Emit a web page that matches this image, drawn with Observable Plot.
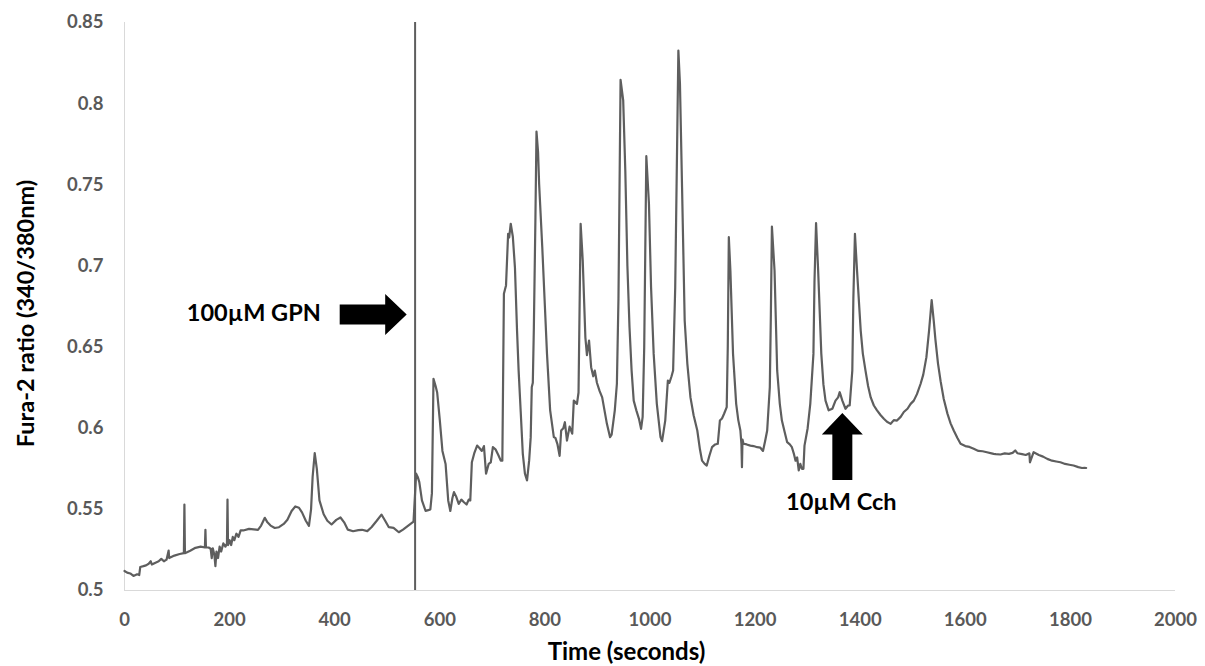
<!DOCTYPE html>
<html><head><meta charset="utf-8">
<script src="https://cdn.jsdelivr.net/npm/d3@7"></script>
<script src="https://cdn.jsdelivr.net/npm/@observablehq/plot@0.6"></script>
<style>html,body{margin:0;padding:0;background:#fff}</style>
</head><body><div id="chart"></div>
<script>
// Time (seconds)
const time = [0,5,11,17,24,28,30,36,41,46,50,52,58,65,70,75,80,84,85,95,105,113,114,115,125,135,145,153,154,155,160,164,166,168,171,173,175,178,181,184,188,192,195,196,197,200,203,206,209,213,217,221,226,237,254,260,267,272,278,286,294,303,310,318,325,332,338,345,351,355,358,362,366,371,379,386,394,403,411,418,425,435,445,452,462,470,480,489,496,503,512,522,530,540,550,555,558,561,566,573,578,582,585,588,592,595,600,605,611,616,620,624,627,631,636,641,646,651,655,658,661,666,671,675,680,684,688,693,697,701,706,712,716,719,722,726,730,732,735,739,743,747,750,754,758,762,766,770,773,775,777,779,782,784,787,789,795,800,804,810,817,820,824,828,831,835,838,842,847,852,855,861,864,868,872,877,880,884,888,892,895,899,904,909,918,924,927,933,937,940,944,949,953,957,961,965,969,974,979,983,986,989,993,998,1002,1007,1013,1020,1023,1029,1034,1037,1041,1044,1048,1051,1054,1057,1061,1066,1071,1077,1083,1090,1095,1099,1104,1108,1113,1118,1124,1129,1133,1137,1141,1146,1148,1150,1153,1158,1164,1168,1172,1174,1175,1176,1178,1184,1191,1197,1204,1210,1215,1219,1223,1228,1230,1232,1237,1242,1247,1251,1256,1261,1266,1270,1274,1277,1280,1283,1286,1289,1292,1294,1300,1305,1311,1313,1316,1320,1326,1330,1334,1340,1347,1353,1358,1361,1366,1372,1377,1380,1385,1387,1390,1394,1401,1405,1410,1415,1420,1426,1432,1439,1445,1451,1458,1464,1470,1477,1483,1490,1496,1502,1508,1515,1520,1526,1531,1536,1540,1543,1548,1553,1559,1566,1572,1578,1585,1591,1600,1608,1616,1625,1633,1641,1650,1654,1658,1667,1675,1683,1690,1695,1699,1708,1715,1722,1723,1730,1740,1748,1756,1765,1773,1781,1790,1798,1806,1815,1822,1827,1830];
// Fura-2 ratio (340/380nm)
const ratio = [0.512,0.511,0.5105,0.509,0.510,0.5095,0.5145,0.515,0.5155,0.5165,0.518,0.516,0.517,0.518,0.5195,0.518,0.519,0.5246,0.520,0.5215,0.5225,0.523,0.553,0.523,0.5245,0.5263,0.527,0.5265,0.5374,0.5265,0.5265,0.5257,0.520,0.526,0.522,0.515,0.524,0.520,0.527,0.524,0.529,0.527,0.529,0.556,0.528,0.531,0.528,0.533,0.531,0.535,0.533,0.537,0.537,0.538,0.5374,0.540,0.5448,0.542,0.540,0.5385,0.539,0.541,0.5436,0.549,0.5518,0.551,0.548,0.543,0.5398,0.550,0.570,0.5846,0.575,0.5555,0.547,0.543,0.5407,0.5435,0.545,0.542,0.5375,0.5365,0.5372,0.5374,0.5366,0.539,0.543,0.5468,0.543,0.539,0.5386,0.5359,0.5375,0.540,0.5425,0.572,0.570,0.5668,0.5555,0.549,0.5495,0.550,0.560,0.6304,0.626,0.622,0.605,0.586,0.578,0.5555,0.549,0.557,0.5606,0.558,0.5534,0.556,0.5544,0.553,0.556,0.5555,0.579,0.585,0.5893,0.588,0.586,0.589,0.572,0.578,0.579,0.5883,0.587,0.583,0.580,0.580,0.6828,0.688,0.7198,0.7175,0.726,0.718,0.699,0.660,0.6355,0.610,0.584,0.572,0.5678,0.580,0.5945,0.6253,0.628,0.662,0.730,0.7828,0.770,0.7506,0.7115,0.675,0.6458,0.611,0.5945,0.594,0.590,0.583,0.5986,0.600,0.6037,0.5924,0.601,0.5966,0.617,0.615,0.622,0.726,0.7033,0.656,0.645,0.654,0.6376,0.632,0.6355,0.628,0.623,0.619,0.6027,0.5945,0.596,0.611,0.6274,0.680,0.8147,0.802,0.7588,0.700,0.6622,0.6355,0.617,0.611,0.6058,0.5996,0.607,0.650,0.7676,0.7383,0.687,0.6458,0.615,0.5945,0.592,0.6047,0.6294,0.628,0.632,0.6356,0.687,0.760,0.8327,0.8122,0.7485,0.6664,0.640,0.619,0.608,0.5986,0.587,0.580,0.578,0.577,0.583,0.5883,0.590,0.5904,0.6047,0.606,0.6089,0.613,0.650,0.7177,0.697,0.6458,0.615,0.605,0.5986,0.590,0.576,0.593,0.5904,0.590,0.5893,0.589,0.5883,0.588,0.586,0.592,0.5986,0.6253,0.670,0.7243,0.697,0.6356,0.615,0.6047,0.598,0.5914,0.590,0.5883,0.584,0.580,0.582,0.574,0.578,0.575,0.575,0.5893,0.600,0.615,0.6458,0.690,0.7264,0.697,0.6458,0.627,0.617,0.611,0.612,0.617,0.619,0.6222,0.617,0.612,0.614,0.614,0.6356,0.680,0.7198,0.697,0.660,0.646,0.6356,0.626,0.619,0.614,0.611,0.608,0.6058,0.604,0.6027,0.605,0.6047,0.607,0.610,0.612,0.615,0.617,0.621,0.6274,0.633,0.6438,0.660,0.679,0.666,0.655,0.640,0.629,0.618,0.609,0.603,0.5986,0.594,0.5904,0.589,0.5885,0.5873,0.586,0.5858,0.5852,0.5845,0.5842,0.584,0.5838,0.5845,0.5842,0.5848,0.5863,0.5846,0.584,0.5835,0.5845,0.579,0.5852,0.5835,0.5825,0.5811,0.580,0.5795,0.579,0.578,0.5775,0.577,0.576,0.5755,0.5756,0.5755];

const xTicks = [0,200,400,600,800,1000,1200,1400,1600,1800,2000];
const yTicks = [0.5,0.55,0.6,0.65,0.7,0.75,0.8,0.85];
const gpnTime = [553];
const labelText = ["100µM GPN", "10µM Cch"];
const labelTime = [246, 1364];
const labelValue = [0.6707, 0.5542];
const arrowTime = [537, 1366];
const arrowValue = [0.6701, 0.6093];
const arrowDir = ["right", "up"];
const xTitle = "Time (seconds)";
const yTitle = "Fura-2 ratio (340/380nm)";

const trace = time.map((t, i) => ({time: t, ratio: ratio[i]}));
const labels = labelText.map((s, i) => ({text: s, time: labelTime[i], value: labelValue[i]}));
const arrows = arrowDir.map((d, i) => ({dir: d, time: arrowTime[i], value: arrowValue[i]}));

function blockArrow(dir) {
  const L = 67, H = 21.5, hw = 20.5, sw = 10;
  let pts = [[-L,-sw],[-H,-sw],[-H,-hw],[0,0],[-H,hw],[-H,sw],[-L,sw]];
  if (dir === "up") pts = pts.map(([x, y]) => [y, -x]);
  return {draw(ctx) {
    ctx.moveTo(pts[0][0], pts[0][1]);
    for (let k = 1; k < pts.length; k++) ctx.lineTo(pts[k][0], pts[k][1]);
    ctx.closePath();
  }};
}

const lineColor = "#5e5e5e";
const chart = Plot.plot({
  width: 1205, height: 666,
  marginLeft: 124, marginRight: 30, marginTop: 22, marginBottom: 76,
  style: {fontFamily: "Lato, 'Open Sans', sans-serif", fontSize: "18.5px", fontWeight: "bold", color: "#595959", background: "#fff"},
  x: {domain: [0, 2000]},
  y: {domain: [0.5, 0.85]},
  marks: [
    Plot.ruleX([0], {stroke: "#d9d9d9", strokeWidth: 1}),
    Plot.ruleY([0.5], {stroke: "#d9d9d9", strokeWidth: 1}),
    Plot.axisY({ticks: yTicks, tickSize: 0, tickPadding: 21, tickFormat: d => String(d), label: null}),
    Plot.axisX({ticks: xTicks, tickSize: 0, tickPadding: 22, tickFormat: d => String(d), label: null}),
    Plot.ruleX(gpnTime, {y1: 0.5, y2: 0.85, stroke: lineColor, strokeWidth: 2}),
    Plot.line(trace, {x: "time", y: "ratio", stroke: lineColor, strokeWidth: 2.2, strokeLinejoin: "round"}),
    Plot.dot(arrows.filter(d => d.dir === "right"), {x: "time", y: "value", symbol: blockArrow("right"), r: 5, fill: "black", stroke: "none"}),
    Plot.dot(arrows.filter(d => d.dir === "up"), {x: "time", y: "value", symbol: blockArrow("up"), r: 5, fill: "black", stroke: "none"}),
    Plot.text(labels, {x: "time", y: "value", text: "text", fontSize: 23.5, fontWeight: "bold", fill: "black"}),
    Plot.text([yTitle], {text: d => d, frameAnchor: "left", textAnchor: "middle", lineAnchor: "middle", rotate: -90, dx: -98, dy: 7, fontSize: 23.5, fontWeight: "bold", fill: "black"}),
    Plot.text([xTitle], {text: d => d, frameAnchor: "bottom", textAnchor: "middle", lineAnchor: "middle", dx: -23.5, dy: 62, fontSize: 24, fontWeight: "bold", fill: "black"})
  ]
});
document.getElementById("chart").appendChild(chart);
</script>
</body></html>
